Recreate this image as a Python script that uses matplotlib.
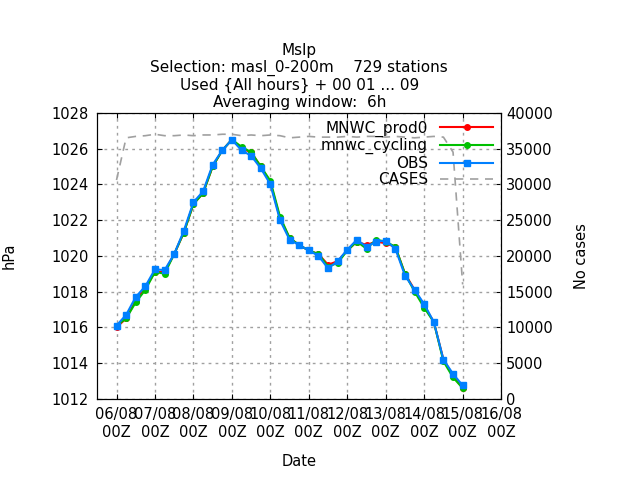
import numpy as np
import matplotlib.pyplot as plt

# hours since 06/08 00Z, 6-hourly
hours = np.arange(0, 217, 6)

obs = [1016.1, 1016.7, 1017.7, 1018.3, 1019.25, 1019.2, 1020.1, 1021.4, 1023.0, 1023.6,
       1025.1, 1025.9, 1026.5, 1025.9, 1025.6, 1024.9, 1024.0, 1022.0, 1020.9, 1020.6,
       1020.3, 1020.0, 1019.3, 1019.7, 1020.35, 1020.9, 1020.5, 1020.8, 1020.85, 1020.4,
       1018.9, 1018.1, 1017.3, 1016.3, 1014.2, 1013.4, 1012.75]
prod0 = [1016.0, 1016.5, 1017.5, 1018.2, 1019.1, 1019.1, 1020.1, 1021.3, 1022.9, 1023.5,
         1025.0, 1025.9, 1026.5, 1026.0, 1025.8, 1025.0, 1024.1, 1022.1, 1021.0, 1020.6,
         1020.3, 1020.1, 1019.5, 1019.7, 1020.3, 1020.8, 1020.6, 1020.8, 1020.7, 1020.5,
         1019.0, 1018.1, 1017.2, 1016.3, 1014.2, 1013.3, 1012.6]
cycling = [1016.1, 1016.5, 1017.4, 1018.1, 1019.1, 1019.0, 1020.1, 1021.3, 1022.9, 1023.5,
           1025.0, 1025.9, 1026.5, 1026.1, 1025.8, 1025.0, 1024.2, 1022.2, 1021.0, 1020.6,
           1020.3, 1020.1, 1019.4, 1019.6, 1020.3, 1020.8, 1020.4, 1020.9, 1020.8, 1020.5,
           1019.0, 1018.0, 1017.1, 1016.3, 1014.1, 1013.2, 1012.6]
cases = [30600, 36500, 36700, 36800, 37000, 36800, 36800, 36900, 36800, 36900,
         36900, 37000, 37000, 36800, 36900, 36800, 36900, 36800, 36500, 36600,
         36700, 36600, 36600, 36600, 36700, 36600, 36700, 36700, 36600, 36700,
         36600, 36500, 36600, 36700, 36600, 34500, 16000]
day_labels = ['06/08\n00Z', '07/08\n00Z', '08/08\n00Z', '09/08\n00Z', '10/08\n00Z', '11/08\n00Z',
              '12/08\n00Z', '13/08\n00Z', '14/08\n00Z', '15/08\n00Z', '16/08\n00Z']

plt.rcParams['font.size'] = 10.5
fig = plt.figure(figsize=(6.4, 4.8), dpi=100)
ax = fig.add_axes([0.152, 0.169, 0.631, 0.596])
ax2 = ax.twinx()

l1, = ax.plot(hours, prod0, color='#ff0000', lw=1.5, marker='o', ms=4, label='MNWC_prod0')
l2, = ax.plot(hours, cycling, color='#00c000', lw=1.5, marker='o', ms=4, label='mnwc_cycling')
l3, = ax.plot(hours, obs, color='#0080ff', lw=1.5, marker='s', ms=5, label='OBS')
l4, = ax2.plot(hours, cases, color='#a0a0a0', lw=1.2, ls=(0, (5, 4)), label='CASES')

ax.set_xlim(-12, 240)
ax.set_ylim(1012, 1028)
ax.set_yticks(np.arange(1012, 1029, 2))
ax.set_xticks(np.arange(0, 241, 24))
ax.set_xticklabels(day_labels)
ax2.set_ylim(0, 40000)
ax2.set_yticks(np.arange(0, 40001, 5000))
ax.grid(True, color='#a0a0a0', ls=(0, (2, 3)), lw=1)
ax.tick_params(direction='in', top=True, pad=6)
ax2.tick_params(direction='in')
ax.set_ylabel('hPa', labelpad=25)
ax2.set_ylabel('No cases', labelpad=15)
ax.set_xlabel('Date', labelpad=10)
ax.set_title('Mslp\nSelection: masl_0-200m    729 stations\nUsed {All hours} + 00 01 ... 09\nAveraging window:  6h',
             fontsize=11, linespacing=1.15, pad=4)
ax.legend(handles=[l1, l2, l3, l4], loc='upper right', markerfirst=False, frameon=False,
          borderaxespad=0.1, handlelength=3.5, labelspacing=0.1, fontsize=11)
ax.set_zorder(ax2.get_zorder() + 1)
ax.patch.set_visible(False)

fig.savefig('out.png', dpi=100)
